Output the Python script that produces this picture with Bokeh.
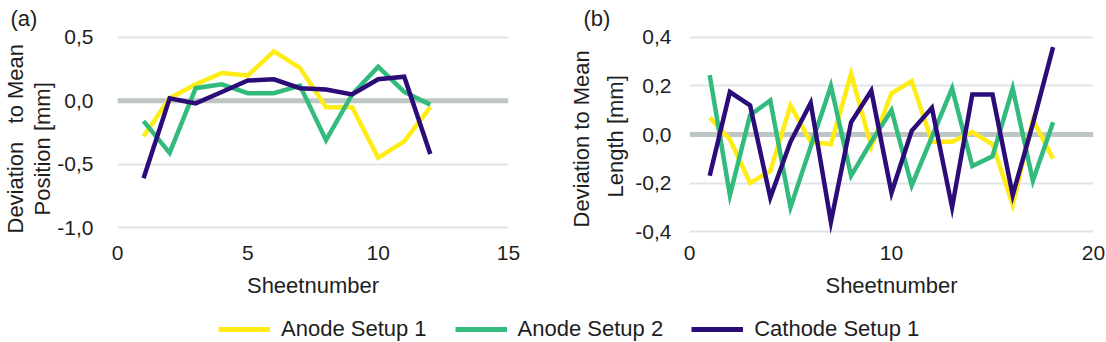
import math
from bokeh.plotting import figure
from bokeh.models import (Range1d, FixedTicker, CustomJSTickFormatter, Span, Title,
                          Legend, LegendItem)
from bokeh.layouts import column, row
from bokeh.embed import file_html
from bokeh.resources import INLINE

# ---------------- data ----------------
sheets_a = [1, 2, 3, 4, 5, 6, 7, 8, 9, 10, 11, 12]
anode1_a = [-0.28, 0.02, 0.13, 0.22, 0.20, 0.39, 0.26, -0.05, -0.05, -0.45, -0.32, -0.05]
anode2_a = [-0.16, -0.41, 0.10, 0.13, 0.06, 0.06, 0.12, -0.31, 0.05, 0.27, 0.07, -0.03]
cathode1_a = [-0.61, 0.02, -0.02, 0.07, 0.16, 0.17, 0.10, 0.09, 0.05, 0.17, 0.19, -0.42]

sheets_b = list(range(1, 19))
anode1_b = [0.07, -0.02, -0.20, -0.15, 0.12, -0.03, -0.04, 0.25, -0.05, 0.17, 0.22,
            -0.03, -0.03, 0.01, -0.04, -0.29, 0.06, -0.10]
anode2_b = [0.245, -0.25, 0.08, 0.14, -0.30, -0.05, 0.20, -0.17, -0.03, 0.10, -0.21,
            -0.01, 0.19, -0.13, -0.09, 0.19, -0.19, 0.05]
cathode1_b = [-0.17, 0.175, 0.12, -0.26, -0.03, 0.13, -0.36, 0.05, 0.18, -0.24, 0.015,
              0.11, -0.30, 0.165, 0.165, -0.25, 0.045, 0.36]

series_names = ["Anode Setup 1", "Anode Setup 2", "Cathode Setup 1"]
series_colors = ["#ffec14", "#33bb7e", "#2b0c78"]

xticks_a = [0, 5, 10, 15]
yticks_a = [-1.0, -0.5, 0.0, 0.5]
xticks_b = [0, 10, 20]
yticks_b = [-0.4, -0.2, 0.0, 0.2, 0.4]

FONT = "Liberation Sans"
TXT = "#1e1e1e"
GRID = "#dfe5e9"
ZERO = "#bec5c5"
NB = "\u00a0"

fmt = CustomJSTickFormatter(code="return tick.toFixed(1).replace('.', ',');")


def mk_title(text, **kw):
    return Title(text=text, text_font=FONT, text_font_size="22px",
                 text_font_style="normal", text_color=TXT, **kw)


def panel(width, bl, br, xr, yr, xt, yt, ystand, xs, ys_list, tag, tag_off, titles):
    p = figure(width=width, height=300, x_range=Range1d(*xr), y_range=Range1d(*yr),
               output_backend="svg", toolbar_location=None,
               min_border_left=bl, min_border_right=br, min_border_top=30,
               min_border_bottom=65)
    p.outline_line_color = None
    p.background_fill_color = "white"
    p.border_fill_color = "white"
    p.xgrid.visible = False
    p.ygrid.grid_line_color = GRID
    p.ygrid.grid_line_width = 2
    p.ygrid.ticker = FixedTicker(ticks=yt)
    for ax in (p.xaxis[0], p.yaxis[0]):
        ax.axis_line_color = None
        ax.major_tick_line_color = None
        ax.minor_tick_line_color = None
        ax.major_label_text_font = FONT
        ax.major_label_text_font_size = "21px"
        ax.major_label_text_color = TXT
    p.xaxis.ticker = FixedTicker(ticks=xt)
    p.yaxis.ticker = FixedTicker(ticks=yt)
    p.yaxis.formatter = fmt
    p.yaxis.major_label_standoff = ystand
    p.xaxis.major_label_standoff = 4
    p.xaxis.axis_label = "Sheetnumber"
    p.xaxis.axis_label_text_font = FONT
    p.xaxis.axis_label_text_font_size = "22px"
    p.xaxis.axis_label_text_font_style = "normal"
    p.xaxis.axis_label_text_color = TXT
    p.xaxis.axis_label_standoff = 10

    p.add_layout(Span(location=0, dimension="width", line_color=ZERO, line_width=5,
                      level="underlay"))
    for ys, c in zip(ys_list, series_colors):
        p.line(xs, ys, line_color=c, line_width=4.5, line_join="miter")

    # panel tag above, y titles on the left (inner line first)
    p.add_layout(mk_title(tag, align="left", offset=tag_off, standoff=6), "above")
    for (txt, stand, off) in titles:
        p.add_layout(mk_title(txt, align="left", standoff=stand, offset=off), "left")
    return p


pa = panel(545, 117, 37, (0, 15), (-1.062, 0.531), xticks_a, yticks_a, 18,
           sheets_a, [anode1_a, anode2_a, cathode1_a], "(a)", -107,
           [("Position [mm]", 0, 20), ("Deviation" + NB * 3 + "to Mean", 0, 2)])
pb = panel(561, 144, 13, (0, 20), (-0.416, 0.416), xticks_b, yticks_b, 12,
           sheets_b, [anode1_b, anode2_b, cathode1_b], "(b)", -106,
           [("Length [mm]", 10, 38), ("Deviation to Mean", 4, 8)])

# legend strip (series drawn far outside its visible range; only the legend shows)
pl = figure(width=1106, height=42, x_range=Range1d(0, 1), y_range=Range1d(100, 101),
            output_backend="svg", toolbar_location=None, x_axis_location=None,
            y_axis_location=None, min_border=0)
pl.outline_line_color = None
pl.xgrid.visible = False
pl.ygrid.visible = False
items = []
for name, c, ys in zip(series_names, series_colors, [anode1_a, anode2_a, cathode1_a]):
    r = pl.line(sheets_a, ys, line_color=c, line_width=5)
    items.append(LegendItem(label=name, renderers=[r]))
leg = Legend(items=items, orientation="horizontal", location=(218, 0),
             glyph_width=52, glyph_height=22, label_standoff=11, spacing=28,
             padding=0, margin=0, border_line_color=None, background_fill_alpha=0,
             label_text_font=FONT, label_text_font_size="22px", label_text_color=TXT)
pl.add_layout(leg, "center")

layout = column(row(pa, pb), pl)
open("out.html", "w").write(file_html(layout, INLINE))
